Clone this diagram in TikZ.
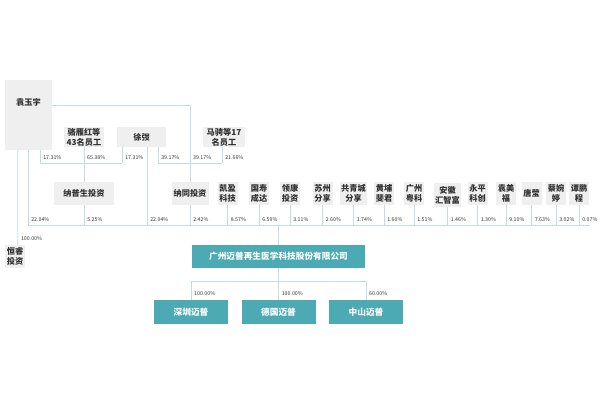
\documentclass[tikz,border=0pt]{standalone}
\usepackage{fontspec}
\setmainfont{Noto Sans CJK SC}
\usetikzlibrary{positioning,calc}
\definecolor{boxgrey}{RGB}{239,239,239}
\definecolor{linkblue}{RGB}{197,219,226}
\definecolor{mpteal}{RGB}{76,170,181}
\definecolor{txtdark}{RGB}{50,50,50}
\tikzset{
  holder/.style={rectangle, fill=boxgrey, text=txtdark, align=center, inner xsep=1pt, inner ysep=0pt,
    font=\fontsize{7}{8.5}\selectfont\bfseries, minimum height=0.69cm, minimum width=0.6cm},
  firm/.style={rectangle, fill=mpteal, text=white, inner sep=0pt,
    font=\fontsize{7.4}{8.5}\selectfont\bfseries, minimum height=0.72cm},
  share/.style={font=\fontsize{4.5}{5}\selectfont, text=txtdark, inner sep=0pt, anchor=south west, xshift=2.5pt, yshift=3pt},
  link/.style={draw=linkblue, line width=0.6pt}
}
\begin{document}
\begin{tikzpicture}[x=0.03cm, y=-0.03cm]
				\useasboundingbox (0,0) rectangle (600,400);
				% shareholders of the holding platforms
				\node[holder, minimum width=1.41cm, text height=0.78cm, text depth=1.32cm] (yuan) at (28.5,115) {袁玉宇};
				\node[holder, minimum width=1.2cm, minimum height=0.6cm] (luo) at (84,137) {骆雁红等\\43名员工};
				\node[holder, minimum width=1.47cm, minimum height=0.6cm] (xu) at (141.5,137) {徐弢};
				\node[holder, minimum width=1.26cm, minimum height=0.6cm] (ma) at (224,137) {马骋等17\\名员工};
				
				% platforms and other shareholders
				\node[holder, minimum width=1.8cm] (nps) at (84,193.5) {纳普生投资};
				\node[holder, minimum width=1.11cm] (nt) at (190,193.5) {纳同投资};
				\node[holder] (ky) at (227.5,193.5) {凯盈\\科技};
				\node[holder] (gs) at (259,193.5) {国寿\\成达};
				\node[holder] (lk) at (290,193.5) {领康\\投资};
				\node[holder] (sz) at (322.5,193.5) {苏州\\分享};
				\node[holder] (gqc) at (353.5,193.5) {共青城\\分享};
				\node[holder] (hp) at (384,193.5) {黄埔\\斐君};
				\node[holder] (gz) at (414,193.5) {广州\\粤科};
				\node[holder] (ah) at (447.5,195) {安徽\\汇智富};
				\node[holder] (yp) at (477.5,193.5) {永平\\科创};
				\node[holder] (ymf) at (506,193.5) {袁美\\福};
				\node[holder] (ty) at (531.5,193.5) {唐莹};
				\node[holder] (cwt) at (556,193.5) {蔡婉\\婷};
				\node[holder] (tpc) at (579,193.5) {谭鹏\\程};
				\node[holder] (hr) at (15,256.5) {恒睿\\投资};
				
				% company and subsidiaries
				\node[firm, minimum width=5.19cm, minimum height=0.69cm] (co) at (278.5,256.5) {广州迈普再生医学科技股份有限公司};
				\node[firm, minimum width=2.22cm] (szmp) at (191,312) {深圳迈普};
				\node[firm, minimum width=2.22cm] (dgmp) at (278.5,312) {德国迈普};
				\node[firm, minimum width=2.22cm] (zsmp) at (366,312) {中山迈普};
				
				\coordinate (busA1) at (40,163);
				\coordinate (busA2) at (122,163);
				\coordinate (busB1) at (158,163);
				\coordinate (busB2) at (222,163);
				\coordinate (busC1) at (28,225);
				\coordinate (busC2) at (590,225);
				\coordinate (busD) at (0,281);
				
				% 纳普生投资
				\draw[link] (busA1) -- (busA2);
				\draw[link] (yuan.south -| busA1) -- (busA1) node[share] (p1) {17.31\%};
				\draw[link] (luo) -- (nps);
				\node[share] (p2) at (luo.south |- busA1) {65.38\%};
				\draw[link] (xu.south -| busA2) -- (busA2) node[share] (p3) {17.31\%};
				
				% 纳同投资
				\draw[link] (busB1) -- (busB2);
				\draw[link] (xu.south -| busB1) -- (busB1) node[share] (p4) {39.17\%};
				\draw[link] ($(yuan.north east)+(0,26)$) -| (nt);
				\node[share] (p5) at (nt.north |- busB1) {39.17\%};
				\draw[link] (ma.south -| busB2) -- (busB2) node[share] (p6) {21.66\%};
				
				% shareholders of the company
				\draw[link] (busC1) -- (busC2);
				\draw[link] (yuan.south -| busC1) -- (busC1) node[share] (q1) {22.04\%};
				\draw[link] (nps) |- (busC1) node[share, pos=0.5] (q2) {5.25\%};
				\draw[link] ($(xu.south)+(5.5,0)$) |- (busC1) node[share, pos=0.5] (q3) {22.04\%};
				\draw[link] (nt) |- (busC1) node[share, pos=0.5] (q4) {2.42\%};
				\draw[link] (ky) |- (busC1) node[share, pos=0.5] (q5) {8.57\%};
				\draw[link] (gs) |- (busC1) node[share, pos=0.5] (q6) {6.59\%};
				\draw[link] (lk) |- (busC1) node[share, pos=0.5] (q7) {3.11\%};
				\draw[link] (sz) |- (busC1) node[share, pos=0.5] (q8) {2.60\%};
				\draw[link] (gqc) |- (busC1) node[share, pos=0.5] (q9) {1.74\%};
				\draw[link] (hp) |- (busC1) node[share, pos=0.5] (q10) {1.60\%};
				\draw[link] (gz) |- (busC1) node[share, pos=0.5] (q11) {1.51\%};
				\draw[link] (ah) |- (busC1) node[share, pos=0.5] (q12) {1.46\%};
				\draw[link] (yp) |- (busC1) node[share, pos=0.5] (q13) {1.30\%};
				\draw[link] (ymf) |- (busC1) node[share, pos=0.5] (q14) {9.10\%};
				\draw[link] (ty) |- (busC1) node[share, pos=0.5] (q15) {7.63\%};
				\draw[link] (cwt) |- (busC1) node[share, pos=0.5] (q16) {3.02\%};
				\draw[link] (tpc) |- (busC1) node[share, pos=0.5] (q17) {0.07\%};
				\draw[link] (co.north |- busC1) -- (co);
				
				% 恒睿投资
				\draw[link] ($(yuan.south west)+(13,0)$) -- ($(hr.north west)+(13,0)$) node[share] (q0) {100.00\%};
				
				% subsidiaries
				\draw[link] (co.south) -- (dgmp.north) node[share] (s2) {100.00\%};
				\draw[link] (szmp) -- (szmp.north |- busD) -- (zsmp.north |- busD) -- (zsmp);
				\node[share] (s1) at (szmp.north) {100.00\%};
				\node[share] (s3) at (zsmp.north) {60.00\%};
			\end{tikzpicture}
\end{document}
